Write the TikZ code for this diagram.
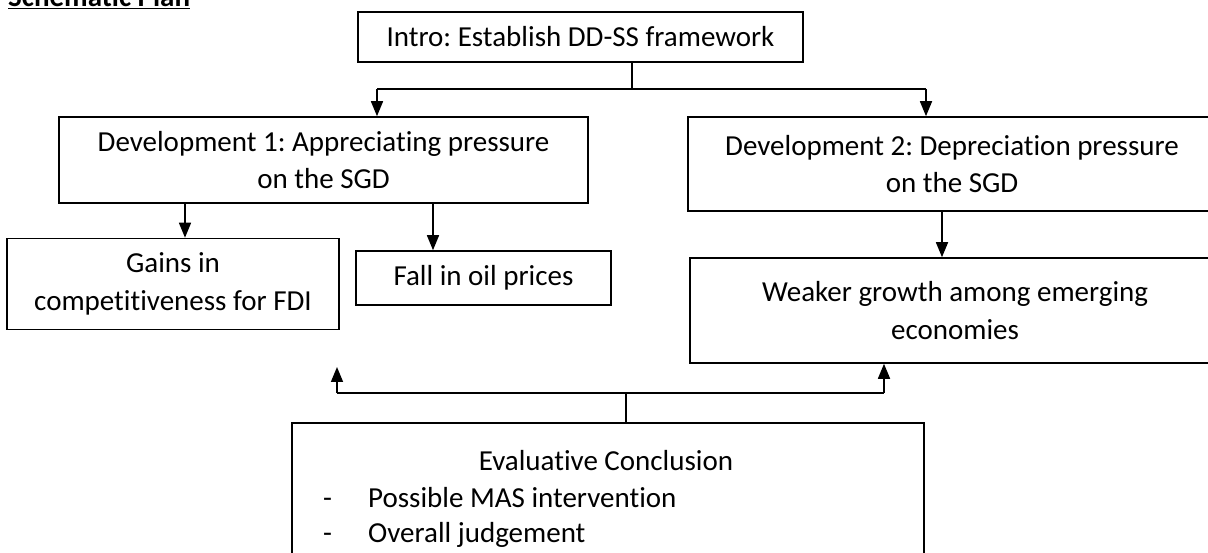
\documentclass[tikz,border=0pt]{standalone}
\usepackage{fontspec}
\setmainfont{Carlito}[Ligatures=NoCommon]
\usepackage{tikz}
\usetikzlibrary{arrows.meta}
\frenchspacing

\tikzset{
	box/.style={draw=black, line width=1.6pt, inner sep=0pt, align=center, font=\fontsize{29}{37.5}\selectfont},
	txt/.style={inner sep=0pt, font=\fontsize{29}{37.5}\selectfont},
	link/.style={line width=1.5pt},
	arr/.style={line width=1.6pt, -{Triangle[length=15pt,width=12pt]}}
}

\begin{document}
\begin{tikzpicture}[x=1pt, y=-1pt]
	
	\useasboundingbox (0,0) rectangle (1208,553);
	
	\node[txt, anchor=base west, font=\fontsize{29}{37.5}\selectfont\bfseries] (title) at (8,7) {\underline{Schematic Plan}};
	
	\node[box, minimum width=445pt, minimum height=50pt] (intro) at (580.5,37) {Intro: Establish DD-SS framework};
	\node[box, minimum width=529pt, minimum height=86pt] (dev1) at (323.5,160) {Development 1: Appreciating pressure\\on the SGD};
	\node[box, minimum width=528pt, minimum height=94pt] (dev2) at (952,164) {Development 2: Depreciation pressure\\on the SGD};
	\node[box, minimum width=332pt, minimum height=91pt] (gains) at (173,284) {Gains in\\competitiveness for FDI};
	\node[box, minimum width=255pt, minimum height=54pt] (fall) at (483.5,278) {Fall in oil prices};
	\node[box, minimum width=530pt, minimum height=105pt] (weaker) at (955,310.5) {Weaker growth among emerging\\economies};
	\node[box, minimum width=632pt, minimum height=160pt] (eval) at (608,503) {};
	
	\node[txt, anchor=base] (evaltitle) at (606,470) {Evaluative Conclusion};
	\node[txt, anchor=base west] (evalmas) at (323,507) {\makebox[45pt][l]{-}Possible MAS intervention};
	\node[txt, anchor=base west] (evaljudge) at (323,542) {\makebox[45pt][l]{-}Overall judgement};
	
	% junctions
	\coordinate (split) at (632,89);
	\coordinate (topL) at (377,89);
	\coordinate (topR) at (926,89);
	\coordinate (toGains) at (185,0);
	\coordinate (toFall) at (433,0);
	\coordinate (toWeaker) at (942,0);
	\coordinate (merge) at (626,393);
	\coordinate (botL) at (337,393);
	\coordinate (botR) at (884,393);
	\coordinate (upL) at (337,367);
	
	\path[link] (intro.south -| split) edge (split);
	\path[link] (topL) edge (topR);
	\path[arr] (topL) edge (topL |- dev1.north);
	\path[arr] (topR) edge (topR |- dev2.north);
	
	\path[arr] (toGains |- dev1.south) edge (toGains |- gains.north);
	\path[arr] (toFall |- dev1.south) edge (toFall |- fall.north);
	\path[arr] (toWeaker |- dev2.south) edge (toWeaker |- weaker.north);
	
	\path[link] (merge |- eval.north) edge (merge);
	\path[link] (botL) edge (botR);
	\path[arr] (botL) edge (upL);
	\path[arr] (botR) edge (botR |- weaker.south);
	
\end{tikzpicture}
\end{document}
